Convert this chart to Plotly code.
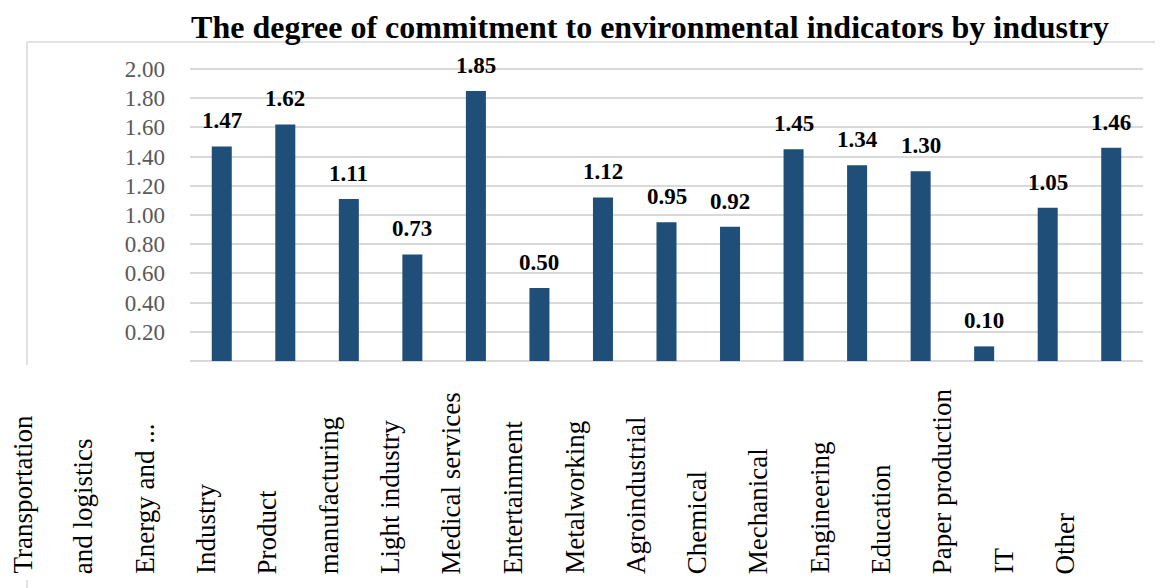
import plotly.graph_objects as go

# data
industries = [
    "Transportation and logistics", "Energy and ...", "Industry",
    "Product manufacturing", "Light industry", "Medical services",
    "Entertainment", "Metalworking", "Agroindustrial", "Chemical",
    "Mechanical Engineering", "Education", "Paper production", "IT", "Other",
]
scores = [1.47, 1.62, 1.11, 0.73, 1.85, 0.50, 1.12, 0.95, 0.92,
          1.45, 1.34, 1.30, 0.10, 1.05, 1.46]

# category labels as printed under the axis (wrapped lines, shifted)
axis_label_lines = [
    "Transportation", "and logistics", "Energy and ...", "Industry", "Product",
    "manufacturing", "Light industry", "Medical services", "Entertainment",
    "Metalworking", "Agroindustrial", "Chemical", "Mechanical", "Engineering",
    "Education", "Paper production", "IT", "Other",
]
y_ticks = [0.2, 0.4, 0.6, 0.8, 1.0, 1.2, 1.4, 1.6, 1.8, 2.0]

# the page body has an 8px margin, so the figure is 8px smaller each way
OFF = 8
W, H = 1163 - OFF, 588 - OFF
SERIF = "Liberation Serif"
GRID = "#D9D9D9"


def px_x(p):
    return (p - OFF) / W


def px_y(p):
    return 1 - (p - OFF) / H


LABEL_STEP = 61.35  # px between the printed label lines
LABEL_X0 = 22       # px of the first label line

fig = go.Figure()
fig.add_trace(go.Bar(
    x=industries, y=scores, width=0.315,
    marker=dict(color="#1F4E79", line=dict(width=0)),
    hoverinfo="x+y",
))

annotations = []
for name, val in zip(industries, scores):
    annotations.append(dict(
        x=name, y=val, xref="x", yref="y", text=f"<b>{val:.2f}</b>",
        showarrow=False, yanchor="bottom", yshift=11,
        font=dict(family=SERIF, size=23, color="#000000"),
    ))
for i, line in enumerate(axis_label_lines):
    annotations.append(dict(
        x=i, y=px_y(576), xref="x2", yref="paper", text=line,
        showarrow=False, textangle=-90, yanchor="bottom", xanchor="center",
        font=dict(family=SERIF, size=27, color="#000000"),
    ))

fig.update_layout(
    width=W, height=H,
    margin=dict(l=0, r=0, t=0, b=0),
    paper_bgcolor="white", plot_bgcolor="rgba(0,0,0,0)",
    showlegend=False,
    title=dict(
        text="<b>The degree of commitment to environmental indicators by industry</b>",
        x=px_x(650), xanchor="center", y=px_y(27), yanchor="middle",
        font=dict(family=SERIF, size=32, color="#000000"),
    ),
    xaxis=dict(
        domain=[px_x(190), px_x(1143)], range=[-0.5, 14.5],
        showticklabels=False, showgrid=False, zeroline=False,
        showline=False, ticks="", fixedrange=True,
    ),
    yaxis=dict(
        domain=[px_y(361), px_y(361 - 2.02 * 146)], range=[0, 2.02],
        tickvals=y_ticks, ticktext=[f"{v:.2f}" for v in y_ticks],
        tickfont=dict(family=SERIF, size=23, color="#595959"),
        ticklabelstandoff=24,
        showgrid=True, gridcolor=GRID, gridwidth=1.5,
        zeroline=True, zerolinecolor=GRID, zerolinewidth=1.5,
        showline=False, ticks="", automargin=False,
    ),
    # hidden subplot under the chart that spaces the printed label lines
    xaxis2=dict(
        domain=[0, 1], anchor="y2", visible=False,
        range=[(OFF - LABEL_X0) / LABEL_STEP, (1163 - LABEL_X0) / LABEL_STEP],
    ),
    yaxis2=dict(
        domain=[0, px_y(372)], anchor="x2", visible=False, range=[0, 1],
    ),
    annotations=annotations,
    shapes=[
        dict(type="line", xref="paper", yref="paper",
             x0=px_x(27), x1=1, y0=px_y(42), y1=px_y(42),
             line=dict(color=GRID, width=1.5)),
        dict(type="line", xref="paper", yref="paper",
             x0=px_x(27), x1=px_x(27), y0=px_y(42), y1=px_y(365),
             line=dict(color=GRID, width=1.5)),
        dict(type="line", xref="paper", yref="paper",
             x0=px_x(27), x1=px_x(27), y0=px_y(580), y1=0,
             line=dict(color=GRID, width=1.5)),
    ],
)

fig.write_html("out.html")
